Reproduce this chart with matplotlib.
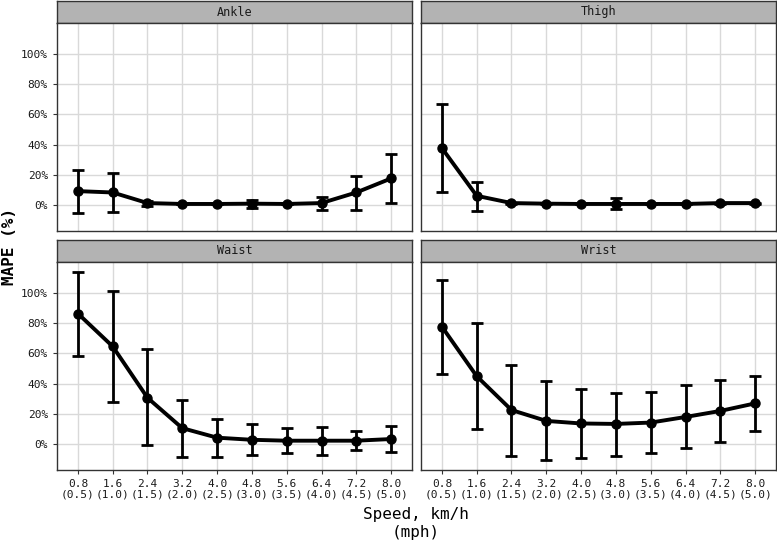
import matplotlib
matplotlib.use("Agg")
import matplotlib.pyplot as plt
import numpy as np

speeds_kmh = ["0.8", "1.6", "2.4", "3.2", "4.0", "4.8", "5.6", "6.4", "7.2", "8.0"]
speeds_mph = ["0.5", "1.0", "1.5", "2.0", "2.5", "3.0", "3.5", "4.0", "4.5", "5.0"]

ankle_mean = [9.2, 8.3, 1.3, 0.7, 0.7, 0.9, 0.7, 1.3, 8.3, 17.6]
ankle_lo = [-5.2, -4.4, -0.5, 0.5, 0.5, -2.1, 0.5, -3.0, -3.0, 1.5]
ankle_hi = [23.5, 21.0, 2.5, 0.9, 0.9, 3.5, 0.9, 5.2, 19.3, 34.0]

thigh_mean = [37.7, 6.1, 1.3, 0.9, 0.7, 0.7, 0.7, 0.7, 1.3, 1.3]
thigh_lo = [8.3, -3.7, 1.0, 0.7, 0.5, -2.6, 0.5, 0.5, 1.0, 1.0]
thigh_hi = [67.0, 15.2, 1.6, 1.1, 0.9, 4.4, 0.9, 0.9, 1.6, 1.6]

waist_mean = [86.4, 64.6, 30.6, 10.5, 4.2, 2.8, 2.2, 2.2, 2.2, 3.3]
waist_lo = [58.4, 28.0, -0.7, -8.5, -8.5, -7.4, -6.1, -7.2, -4.2, -5.3]
waist_hi = [114.2, 101.0, 62.6, 29.1, 16.8, 13.3, 10.7, 11.4, 8.3, 12.0]

wrist_mean = [77.7, 44.9, 22.5, 15.3, 13.6, 13.3, 14.2, 17.9, 21.9, 26.9]
wrist_lo = [46.6, 9.8, -7.7, -10.9, -9.2, -7.9, -5.7, -2.8, 1.5, 8.8]
wrist_hi = [108.3, 80.0, 52.3, 41.8, 36.1, 34.1, 34.6, 39.0, 42.5, 45.1]

panels = [
    ("Ankle", ankle_mean, ankle_lo, ankle_hi),
    ("Thigh", thigh_mean, thigh_lo, thigh_hi),
    ("Waist", waist_mean, waist_lo, waist_hi),
    ("Wrist", wrist_mean, wrist_lo, wrist_hi),
]
yticks = [0, 20, 40, 60, 80, 100]

FONT = "DejaVu Sans Mono"
W, H = 777, 542
fig = plt.figure(figsize=(W / 100, H / 100), dpi=100)

# pixel layout: (left, top_of_strip, right, bottom_of_panel)
boxes = [
    (57, 1, 412, 231),
    (421, 1, 776, 231),
    (57, 240, 412, 470),
    (421, 240, 776, 470),
]
strip_h = 22
x = np.arange(1, 11)

for i, (name, mean, lo, hi) in enumerate(panels):
    l, t, r, b = boxes[i]
    sax = fig.add_axes([l / W, 1 - (t + strip_h) / H, (r - l) / W, strip_h / H])
    sax.set_facecolor("#B3B3B3")
    sax.set_xticks([]); sax.set_yticks([])
    for sp in sax.spines.values():
        sp.set_color("#333333"); sp.set_linewidth(1.0)
    sax.text(0.5, 0.5, name, ha="center", va="center", fontsize=8.5,
             family=FONT, color="#1A1A1A", transform=sax.transAxes)

    ax = fig.add_axes([l / W, 1 - b / H, (r - l) / W, (b - t - strip_h) / H])
    ax.set_facecolor("white")
    ax.set_xlim(0.4, 10.6)
    ax.set_ylim(-17.2, 120.5)
    ax.set_xticks(x)
    ax.set_yticks(yticks)
    ax.grid(True, color="#D9D9D9", linewidth=1.0)
    ax.set_axisbelow(True)
    for sp in ax.spines.values():
        sp.set_color("#333333"); sp.set_linewidth(1.0)
    ax.tick_params(length=3, width=0.8, color="#333333")
    mean_a = np.array(mean); lo_a = np.array(lo); hi_a = np.array(hi)
    ax.errorbar(x, mean_a, yerr=[mean_a - lo_a, hi_a - mean_a], fmt="none",
                ecolor="black", elinewidth=2.0, capsize=4.5, capthick=2.0, zorder=3)
    ax.plot(x, mean_a, color="black", linewidth=2.8, marker="o", markersize=6.5, zorder=4)
    if i % 2 == 0:
        ax.set_yticklabels([f"{v}%" for v in yticks], fontsize=8, family=FONT, color="#1A1A1A")
    else:
        ax.set_yticklabels([])
        ax.tick_params(axis="y", length=0)
    if i >= 2:
        ax.set_xticklabels([f"{k}\n({m})" for k, m in zip(speeds_kmh, speeds_mph)],
                           fontsize=8, family=FONT, color="#1A1A1A", linespacing=1.1)
    else:
        ax.set_xticklabels([])
        ax.tick_params(axis="x", length=0)

fig.text(416 / W, 1 - 515 / H, "Speed, km/h", ha="center", va="center",
         fontsize=11.5, family=FONT)
fig.text(416 / W, 1 - 532 / H, "(mph)", ha="center", va="center",
         fontsize=11.5, family=FONT)
fig.text(9.5 / W, 1 - 247 / H, "MAPE (%)", ha="center", va="center", rotation=90,
         fontsize=11.5, family=FONT, weight="bold")

fig.savefig("out.png", dpi=100, facecolor="white")
